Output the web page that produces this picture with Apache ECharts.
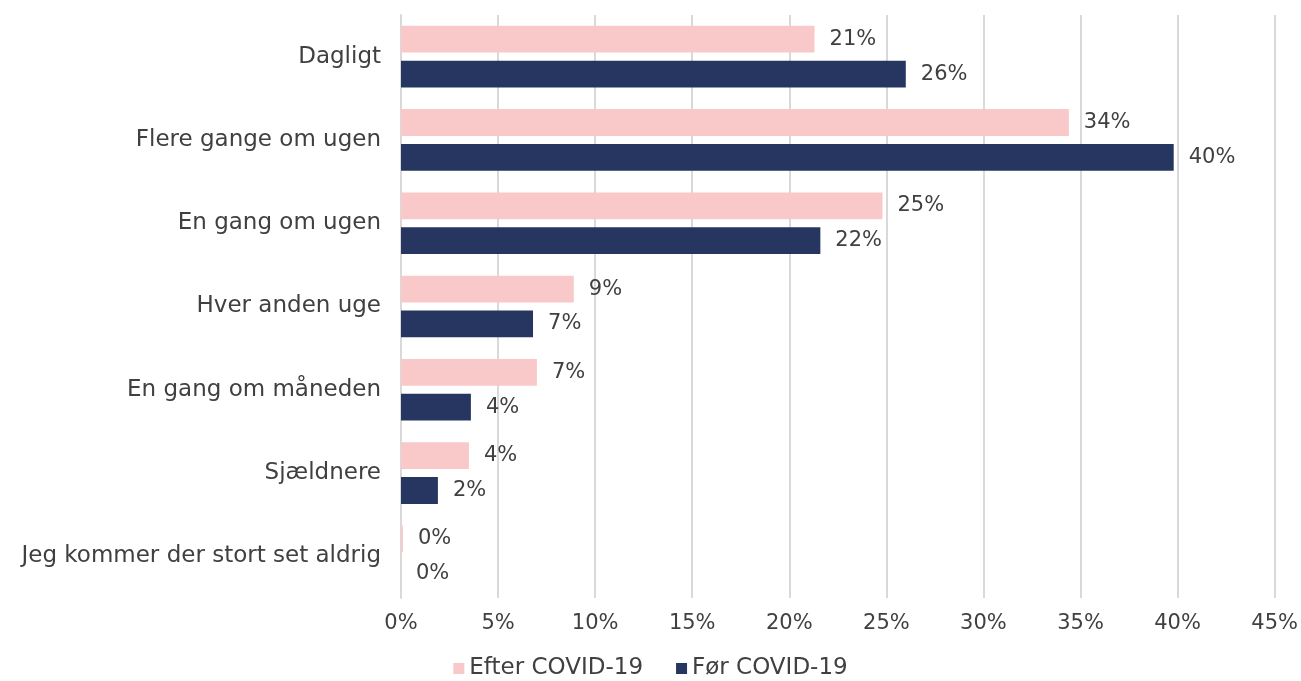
<!DOCTYPE html>
<html>
<head>
<meta charset="utf-8">
<script src="https://cdn.jsdelivr.net/npm/echarts@6/dist/echarts.min.js"></script>
<style>
  html, body { margin: 0; padding: 0; background: #fff; }
  #chart { width: 1301px; height: 681px; }
</style>
</head>
<body>
<div id="chart"></div>
<script>
// kategorier, øverst til nederst
const categories = [
  'Dagligt',
  'Flere gange om ugen',
  'En gang om ugen',
  'Hver anden uge',
  'En gang om måneden',
  'Sjældnere',
  'Jeg kommer der stort set aldrig'
]
const seriesNames = ['Efter COVID-19', 'Før COVID-19']
const efterValues = [21.3, 34.4, 24.8, 8.9, 7.0, 3.5, 0.1]
const forValues = [26.0, 39.8, 21.6, 6.8, 3.6, 1.9, 0]
const xTicks = [0, 5, 10, 15, 20, 25, 30, 35, 40, 45]

const font = 'DejaVu Sans'
const textColor = '#404040'

const chart = echarts.init(document.getElementById('chart'))

const labelOpt = {
  show: true,
  position: 'right',
  distance: 15,
  color: textColor,
  fontFamily: font,
  fontSize: 21,
  formatter: (p) => Math.round(p.value) + '%'
}

const options = {
  backgroundColor: '#fff',
  animation: false,
  grid: {
    left: 401,
    right: 26,
    top: 15,
    bottom: 83
  },
  legend: {
    data: seriesNames,
    bottom: -4,
    left: 'center',
    icon: 'rect',
    itemWidth: 11,
    itemHeight: 11,
    itemGap: 33,
    textStyle: {
      color: textColor,
      fontFamily: font,
      fontSize: 23
    }
  },
  xAxis: {
    type: 'value',
    min: xTicks[0],
    max: xTicks[xTicks.length - 1],
    interval: 5,
    axisLine: { show: false },
    axisTick: { show: false },
    splitLine: {
      show: true,
      lineStyle: { color: '#d9d9d9', width: 2 }
    },
    axisLabel: {
      margin: 15,
      color: textColor,
      fontFamily: font,
      fontSize: 21,
      formatter: '{value}%'
    }
  },
  yAxis: {
    type: 'category',
    inverse: true,
    data: categories,
    axisLine: { show: true, lineStyle: { color: '#d9d9d9', width: 2 } },
    axisTick: { show: false },
    axisLabel: {
      margin: 20,
      color: textColor,
      fontFamily: font,
      fontSize: 23
    }
  },
  series: [
    {
      name: seriesNames[0],
      type: 'bar',
      data: efterValues,
      barGap: '30%',
      barCategoryGap: '26%',
      itemStyle: { color: '#f9c9ca' },
      label: labelOpt
    },
    {
      name: seriesNames[1],
      type: 'bar',
      data: forValues,
      barGap: '30%',
      barCategoryGap: '26%',
      itemStyle: { color: '#263660' },
      label: labelOpt
    }
  ]
}

chart.setOption(options, true)
</script>
</body>
</html>
